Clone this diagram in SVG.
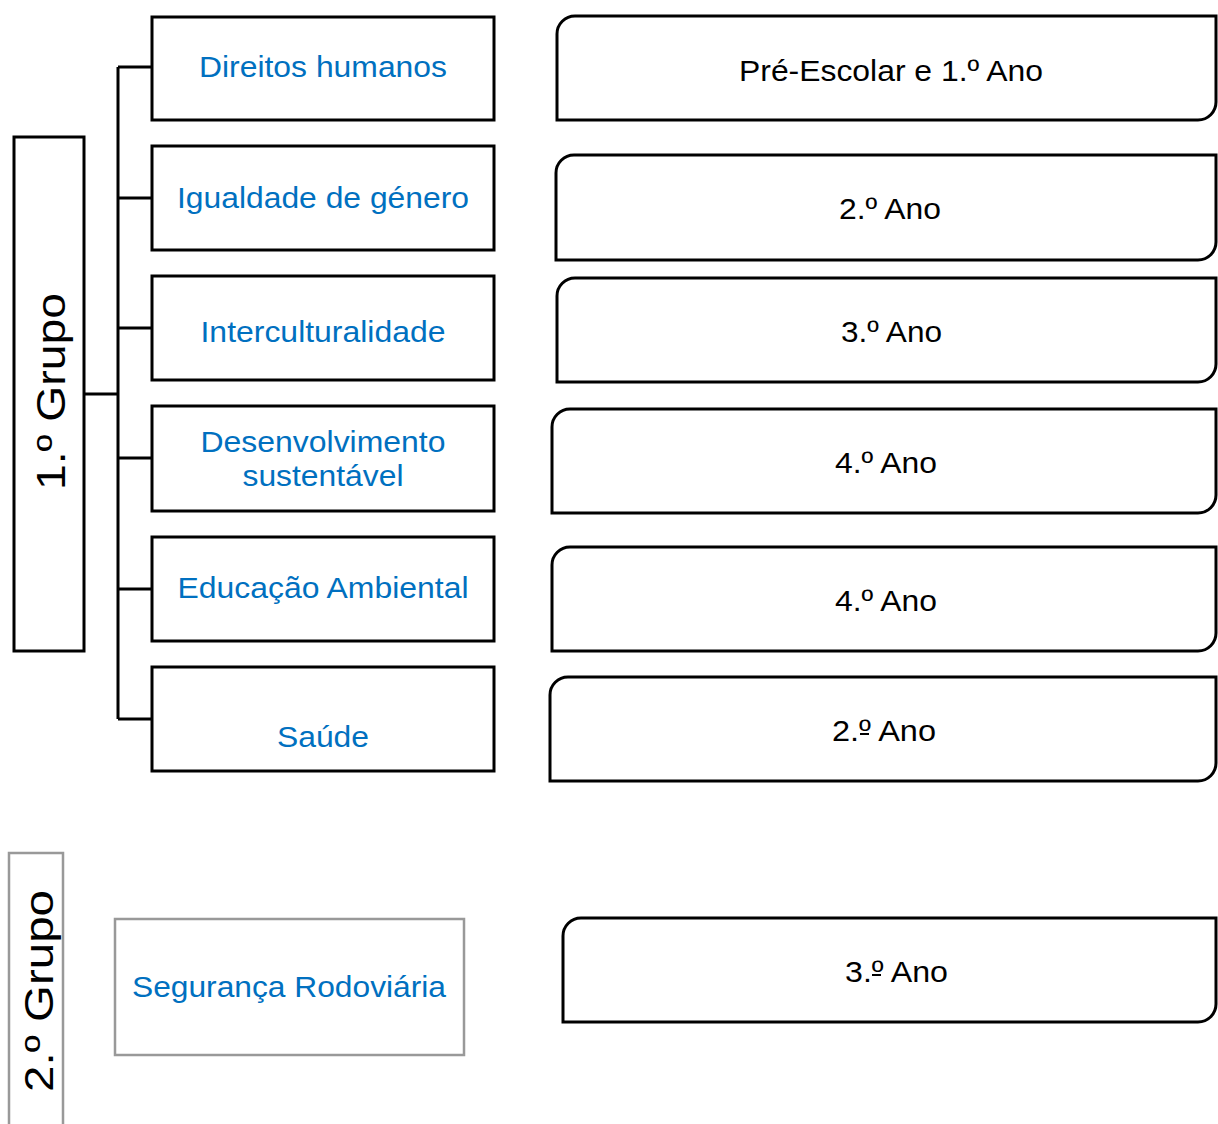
<svg xmlns="http://www.w3.org/2000/svg" width="1218" height="1124" viewBox="0 0 1218 1124">
<style>
.bx{fill:#fff;stroke:#000;stroke-width:3}
.gb{fill:#fff;stroke:#999;stroke-width:2.5}
.tp{font-family:"Liberation Sans",Arial,sans-serif;font-size:30px;fill:#0070C0;text-anchor:middle}
.yr{font-family:"Liberation Sans",Arial,sans-serif;font-size:30px;fill:#000;text-anchor:middle}
.gr{font-family:"Liberation Sans",Arial,sans-serif;font-size:40px;fill:#000;text-anchor:middle}
.ln{fill:none;stroke:#000;stroke-width:3}
.ul{stroke:#000;stroke-width:2}
</style>
<rect width="1218" height="1124" fill="#fff"/>
<g id="connectors">
<path class="ln" d="M84,394 H118 M118,67 V719 M118,67 H152 M118,198 H152 M118,328 H152 M118,458 H152 M118,589 H152 M118,719 H152"/>
</g>
<g id="grupo1"><rect class="bx" x="14" y="137" width="70" height="514"/><text class="gr" transform="translate(65,391.5) rotate(-90)" textLength="197" lengthAdjust="spacingAndGlyphs">1.º Grupo</text></g>
<g id="t1"><rect class="bx" x="152" y="17" width="342" height="103"/><text class="tp" x="323" y="77" textLength="248" lengthAdjust="spacingAndGlyphs">Direitos humanos</text></g>
<g id="t2"><rect class="bx" x="152" y="146" width="342" height="104"/><text class="tp" x="323" y="208" textLength="292" lengthAdjust="spacingAndGlyphs">Igualdade de género</text></g>
<g id="t3"><rect class="bx" x="152" y="276" width="342" height="104"/><text class="tp" x="323" y="342" textLength="245" lengthAdjust="spacingAndGlyphs">Interculturalidade</text></g>
<g id="t4"><rect class="bx" x="152" y="406" width="342" height="105"/><text class="tp" x="323" y="452" textLength="245" lengthAdjust="spacingAndGlyphs">Desenvolvimento</text><text class="tp" x="323" y="486" textLength="161" lengthAdjust="spacingAndGlyphs">sustentável</text></g>
<g id="t5"><rect class="bx" x="152" y="537" width="342" height="104"/><text class="tp" x="323" y="598" textLength="291" lengthAdjust="spacingAndGlyphs">Educação Ambiental</text></g>
<g id="t6"><rect class="bx" x="152" y="667" width="342" height="104"/><text class="tp" x="323" y="747" textLength="92" lengthAdjust="spacingAndGlyphs">Saúde</text></g>
<g id="y1"><path class="bx" d="M557,120 V34 A18,18 0 0 1 575,16 H1216 V102 A18,18 0 0 1 1198,120 Z"/><text class="yr" x="891" y="81" textLength="304" lengthAdjust="spacingAndGlyphs">Pré-Escolar e 1.º Ano</text></g>
<g id="y2"><path class="bx" d="M556,260 V173 A18,18 0 0 1 574,155 H1216 V242 A18,18 0 0 1 1198,260 Z"/><text class="yr" x="890" y="219" textLength="102" lengthAdjust="spacingAndGlyphs">2.º Ano</text></g>
<g id="y3"><path class="bx" d="M557,382 V296 A18,18 0 0 1 575,278 H1216 V364 A18,18 0 0 1 1198,382 Z"/><text class="yr" x="891.5" y="342" textLength="101" lengthAdjust="spacingAndGlyphs">3.º Ano</text></g>
<g id="y4"><path class="bx" d="M552,513 V427 A18,18 0 0 1 570,409 H1216 V495 A18,18 0 0 1 1198,513 Z"/><text class="yr" x="886" y="473" textLength="102" lengthAdjust="spacingAndGlyphs">4.º Ano</text></g>
<g id="y5"><path class="bx" d="M552,651 V565 A18,18 0 0 1 570,547 H1216 V633 A18,18 0 0 1 1198,651 Z"/><text class="yr" x="886" y="611" textLength="102" lengthAdjust="spacingAndGlyphs">4.º Ano</text></g>
<g id="y6"><path class="bx" d="M550,781 V695 A18,18 0 0 1 568,677 H1216 V763 A18,18 0 0 1 1198,781 Z"/><text class="yr" x="884" y="741" textLength="104" lengthAdjust="spacingAndGlyphs">2.º Ano</text><line class="ul" x1="860" y1="734" x2="869" y2="734"/></g>
<g id="grupo2"><path class="gb" d="M9,1126 V853 H63 V1126"/><text class="gr" transform="translate(53,991) rotate(-90)" textLength="202" lengthAdjust="spacingAndGlyphs">2.º Grupo</text></g>
<g id="t7"><rect class="gb" x="115" y="919" width="349" height="136"/><text class="tp" x="289" y="997" textLength="314" lengthAdjust="spacingAndGlyphs">Segurança Rodoviária</text></g>
<g id="y7"><path class="bx" d="M563,1022 V936 A18,18 0 0 1 581,918 H1216 V1004 A18,18 0 0 1 1198,1022 Z"/><text class="yr" x="896.5" y="982" textLength="103" lengthAdjust="spacingAndGlyphs">3.º Ano</text><line class="ul" x1="872" y1="975" x2="881" y2="975"/></g>
</svg>
